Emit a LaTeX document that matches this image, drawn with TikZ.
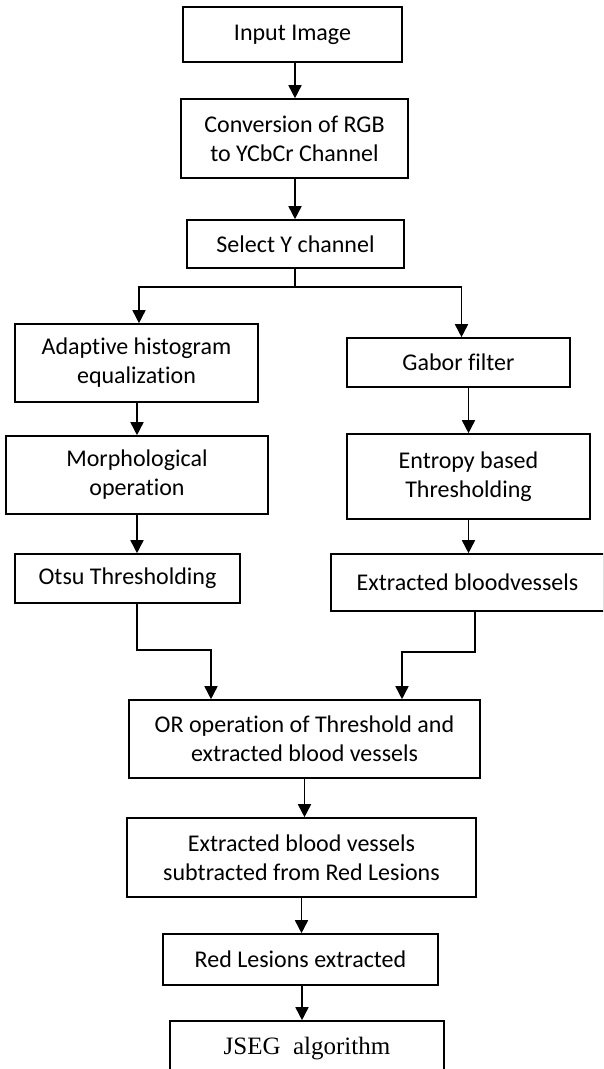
\documentclass[tikz,border=0pt]{standalone}
\usepackage{fontspec}
\setmainfont[Ligatures=NoCommon]{Carlito}
\newfontfamily\serifjseg{Liberation Serif}
\usetikzlibrary{arrows.meta,positioning,calc}

\begin{document}
\begin{tikzpicture}[x=1pt,y=-1pt,
    block/.style={draw, line width=1.6pt, align=center, inner sep=0pt,
        font=\fontsize{24}{29}\selectfont},
    arr/.style={line width=1.6pt, -{Triangle[length=13pt,width=13pt]}},
    link/.style={line width=1.6pt}]
        \clip (0,0) rectangle (603,1069);
        \fill[white] (0,0) rectangle (603,1069);

        % Main column
        \node[block, minimum width=219pt, minimum height=55pt] (input) at (292.5,34.5) {Input Image};
        \node[block, minimum width=227pt, minimum height=79pt] (conv) at (294.5,138.5) {Conversion of RGB\\to YCbCr Channel};
        \node[block, minimum width=217pt, minimum height=48pt] (sel) at (295.5,244) {Select Y channel};

        % Left branch
        \node[block, minimum width=243pt, minimum height=78pt] (adapt) at (136.5,363) {Adaptive histogram\\equalization};
        \node[block, minimum width=262pt, minimum height=78pt] (morph) at (137,475) {Morphological\\operation};
        \node[block, minimum width=225pt, minimum height=49pt] (otsu) at (127.5,578.5) {Otsu Thresholding};

        % Right branch
        \node[block, minimum width=223pt, minimum height=49pt] (gabor) at (458.5,362.5) {Gabor filter};
        \node[block, minimum width=243pt, minimum height=85pt] (entropy) at (468.5,476.5) {Entropy based\\Thresholding};
        \node[block, minimum width=273pt, minimum height=57pt] (vessels) at (467.5,582.5) {Extracted bloodvessels};

        % Merge and tail
        \node[block, minimum width=351pt, minimum height=78pt] (orop) at (304.5,739) {OR operation of Threshold and\\extracted blood vessels};
        \node[block, minimum width=349pt, minimum height=79pt] (subtr) at (301.5,857.5) {Extracted blood vessels\\subtracted from Red Lesions};
        \node[block, minimum width=275pt, minimum height=51pt] (red) at (300.5,959.5) {Red Lesions extracted};
        \node[block, minimum width=274pt, minimum height=56pt, font=\serifjseg\fontsize{25}{29}\selectfont] (jseg) at (307,1049) {JSEG\ \ algorithm};

        % Connectors
        \coordinate (split) at (295,287);
        \coordinate (ljoin) at (211,650);
        \coordinate (rjoin) at (402,652);

        \draw[arr] ([xshift=2.5pt]input.south) -- ([xshift=2.5pt]input.south |- conv.north);
        \draw[arr] ([xshift=0.5pt]conv.south) -- ([xshift=0.5pt]conv.south |- sel.north);
        \draw[link] (sel.south -| split) -- (split);
        \draw[arr] (split) -| ([xshift=2.5pt]adapt.north);
        \draw[arr] (split) -| ([xshift=3pt]gabor.north);
        \draw[arr] (morph.north |- adapt.south) -- (morph.north);
        \draw[arr] (entropy.north |- gabor.south) -- (entropy.north);
        \draw[arr] (morph.south) -- (morph.south |- otsu.north);
        \draw[arr] (entropy.south) -- (entropy.south |- vessels.north);
        \draw[arr] ([xshift=9.5pt]otsu.south) |- (ljoin) -- (ljoin |- orop.north);
        \draw[arr] ([xshift=7.5pt]vessels.south) |- (rjoin) -- (rjoin |- orop.north);
        \draw[arr] (orop.south) -- (orop.south |- subtr.north);
        \draw[arr] (subtr.south) -- (subtr.south |- red.north);
        \draw[arr] ([xshift=1.5pt]red.south) -- ([xshift=1.5pt]red.south |- jseg.north);
\end{tikzpicture}
\end{document}
